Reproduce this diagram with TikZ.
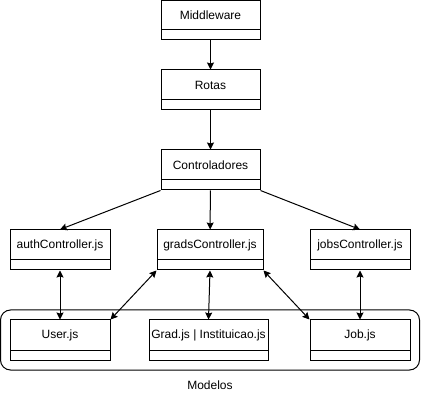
\documentclass[tikz,border=0pt]{standalone}
\usepackage{fontspec}
\setmainfont{Liberation Sans}
\usetikzlibrary{arrows.meta}
\begin{document}
\begin{tikzpicture}[x=1pt,y=-1pt,
  box/.style={draw, line width=1pt, inner sep=0pt},
  lbl/.style={inner sep=0pt, font=\fontsize{12}{14}\selectfont},
  arr/.style={line width=1pt, -{Stealth[length=7pt,width=7pt,inset=1pt]}},
  biarr/.style={line width=1pt, {Stealth[length=7pt,width=7pt,inset=1pt]}-{Stealth[length=7pt,width=7pt,inset=1pt]}}]
\useasboundingbox (0,0) rectangle (421,401);
\newcommand{\umlbox}[6]{%
  \node[box, minimum width={#4-#2}, minimum height={#5-#3}] (#1) at ({(#2+#4)/2},{(#3+#5)/2}) {};
  \draw[line width=1pt] (#2,#5-10) -- (#4,#5-10);
  \node[lbl] (#1t) at ({(#2+#4)/2},{(#3+#5-10)/2}) {#6};
}
\node[draw, line width=1pt, rounded corners=10pt, minimum width=419, minimum height=60, inner sep=0pt] (cont) at (210,340) {};
\umlbox{mw}{161}{0.5}{260}{40}{Middleware}
\umlbox{ro}{161}{70}{260}{110}{Rotas}
\umlbox{co}{161}{150}{260}{190}{Controladores}
\umlbox{au}{10}{230}{110}{270}{authController.js}
\umlbox{gr}{157}{230}{263}{270}{gradsController.js}
\umlbox{jo}{310}{230}{410}{270}{jobsController.js}
\umlbox{us}{10}{320}{110}{360}{User.js}
\umlbox{gd}{149}{320}{268}{360}{Grad.js | Instituicao.js}
\umlbox{jb}{310}{320}{410}{360}{Job.js}
\node[lbl] (modelos) at (210,385) {Modelos};
\draw[arr] (mw) -- (ro);
\draw[arr] (ro) -- (co);
\draw[arr] (co) -- (gr);
\draw[arr] (co.south west) -- (au.north);
\draw[arr] (co.south east) -- (jo.north);
\draw[biarr] (au.south) -- (us.north);
\draw[biarr] (gr.south west) -- (us.north east);
\draw[biarr] (gr.south) -- (gd.north);
\draw[biarr] (gr.south east) -- (jb.north west);
\draw[biarr] (jo.south) -- (jb.north);
\end{tikzpicture}
\end{document}
